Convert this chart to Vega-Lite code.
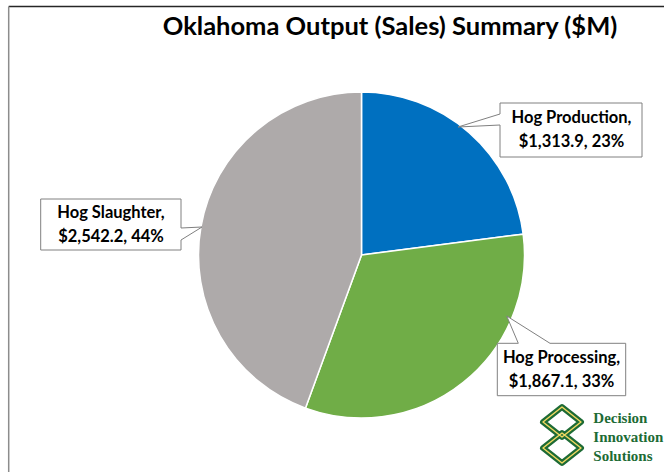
{
  "$schema": "https://vega.github.io/schema/vega-lite/v6.json",
  "width": 605,
  "height": 434,
  "autosize": {"type": "none"},
  "padding": {"left": 59, "top": 38, "right": 0, "bottom": 0},
  "background": "white",
  "view": {"stroke": null},
  "data": {
    "values": [
      {"label": "Hog Production", "value": 1313.9},
      {"label": "Hog Processing", "value": 1867.1},
      {"label": "Hog Slaughter", "value": 2542.2}
    ]
  },
  "transform": [
    {"joinaggregate": [{"op": "sum", "field": "value", "as": "total"}]},
    {"calculate": "datum.label + ',\\n$' + format(datum.value, ',.1f') + ', ' + format(datum.value / datum.total, '.0%')", "as": "txt"},
    {"calculate": "indexof(['Hog Production', 'Hog Processing', 'Hog Slaughter'], datum.label)", "as": "ord"}
  ],
  "layer": [
    {
      "mark": {"type": "arc", "outerRadius": 163, "stroke": "white", "strokeWidth": 1.5},
      "encoding": {
        "theta": {"field": "value", "type": "quantitative", "stack": true},
        "order": {"field": "ord", "type": "quantitative", "sort": "ascending"},
        "color": {
          "field": "label",
          "type": "nominal",
          "scale": {"domain": ["Hog Production", "Hog Processing", "Hog Slaughter"], "range": ["#0070C0", "#70AD47", "#AEAAAA"]},
          "legend": null
        }
      }
    },
    {
      "transform": [{"filter": "datum.label === 'Hog Production'"}],
      "mark": {"type": "text", "text": "Oklahoma Output (Sales) Summary ($M)", "font": "Lato", "fontWeight": "bold", "fontSize": 25.5, "color": "#000000", "align": "center", "baseline": "alphabetic", "dx": 28.5, "dy": -220},
      "encoding": {}
    },
    {
      "transform": [{"filter": "datum.label === 'Hog Production'"}],
      "mark": {"type": "point", "shape": "M-352.8,-248.5H310", "size": 4, "filled": false, "stroke": "#262626", "strokeWidth": 1.5, "opacity": 1},
      "encoding": {}
    },
    {
      "transform": [{"filter": "datum.label === 'Hog Production'"}],
      "mark": {"type": "point", "shape": "M-352.8,-248.5V220", "size": 4, "filled": false, "stroke": "#8c8c8c", "strokeWidth": 1.5, "opacity": 1},
      "encoding": {}
    },
    {
      "transform": [{"filter": "datum.label === 'Hog Production'"}],
      "mark": {"type": "point", "shape": "M138.5,-152H280.5V-98H138.5V-130L96.5,-128L138.5,-141Z", "size": 4, "filled": true, "fill": "white", "stroke": "#808080", "strokeWidth": 1, "opacity": 1},
      "encoding": {}
    },
    {
      "transform": [{"filter": "datum.label === 'Hog Processing'"}],
      "mark": {"type": "point", "shape": "M135.8,88.3H156.8L145.2,61L188.5,88.3H264.2V140.7H135.8Z", "size": 4, "filled": true, "fill": "white", "stroke": "#808080", "strokeWidth": 1, "opacity": 1},
      "encoding": {}
    },
    {
      "transform": [{"filter": "datum.label === 'Hog Slaughter'"}],
      "mark": {"type": "point", "shape": "M-320.8,-56H-180.5V-27L-159.5,-28L-180.5,-15V-5H-320.8Z", "size": 4, "filled": true, "fill": "white", "stroke": "#808080", "strokeWidth": 1, "opacity": 1},
      "encoding": {}
    },
    {
      "transform": [{"filter": "datum.label === 'Hog Production'"}],
      "mark": {"type": "text", "font": "Lato", "fontWeight": "bold", "fontSize": 16.5, "color": "#000000", "align": "center", "baseline": "middle", "lineBreak": "\n", "lineHeight": 24, "dx": 210, "dy": -137},
      "encoding": {"text": {"field": "txt", "type": "nominal"}}
    },
    {
      "transform": [{"filter": "datum.label === 'Hog Processing'"}],
      "mark": {"type": "text", "font": "Lato", "fontWeight": "bold", "fontSize": 16.5, "color": "#000000", "align": "center", "baseline": "middle", "lineBreak": "\n", "lineHeight": 24, "dx": 200, "dy": 102.5},
      "encoding": {"text": {"field": "txt", "type": "nominal"}}
    },
    {
      "transform": [{"filter": "datum.label === 'Hog Slaughter'"}],
      "mark": {"type": "text", "font": "Lato", "fontWeight": "bold", "fontSize": 16.5, "color": "#000000", "align": "center", "baseline": "middle", "lineBreak": "\n", "lineHeight": 24, "dx": -250.5, "dy": -42.5},
      "encoding": {"text": {"field": "txt", "type": "nominal"}}
    },
    {
      "transform": [{"filter": "datum.label === 'Hog Production'"}],
      "mark": {"type": "point", "shape": "M200.5,152L219.5,167L200.5,182L181.5,167ZM200.5,178L219.5,193L200.5,208L181.5,193Z", "size": 4, "filled": false, "stroke": "#1d6b35", "strokeWidth": 6, "strokeJoin": "round", "opacity": 1},
      "encoding": {}
    },
    {
      "transform": [{"filter": "datum.label === 'Hog Production'"}],
      "mark": {"type": "point", "shape": "M200.5,152L219.5,167L200.5,182L181.5,167ZM200.5,178L219.5,193L200.5,208L181.5,193Z", "size": 4, "filled": false, "stroke": "#f0d860", "strokeWidth": 1.5, "strokeJoin": "round", "opacity": 1},
      "encoding": {}
    },
    {
      "transform": [{"filter": "datum.label === 'Hog Production'"}],
      "mark": {"type": "text", "text": ["Decision", "Innovation", "Solutions"], "font": "Liberation Serif", "fontWeight": "bold", "fontSize": 15, "color": "#1d6b35", "align": "left", "baseline": "middle", "lineHeight": 19, "dx": 231.8, "dy": 162.5},
      "encoding": {}
    }
  ]
}
